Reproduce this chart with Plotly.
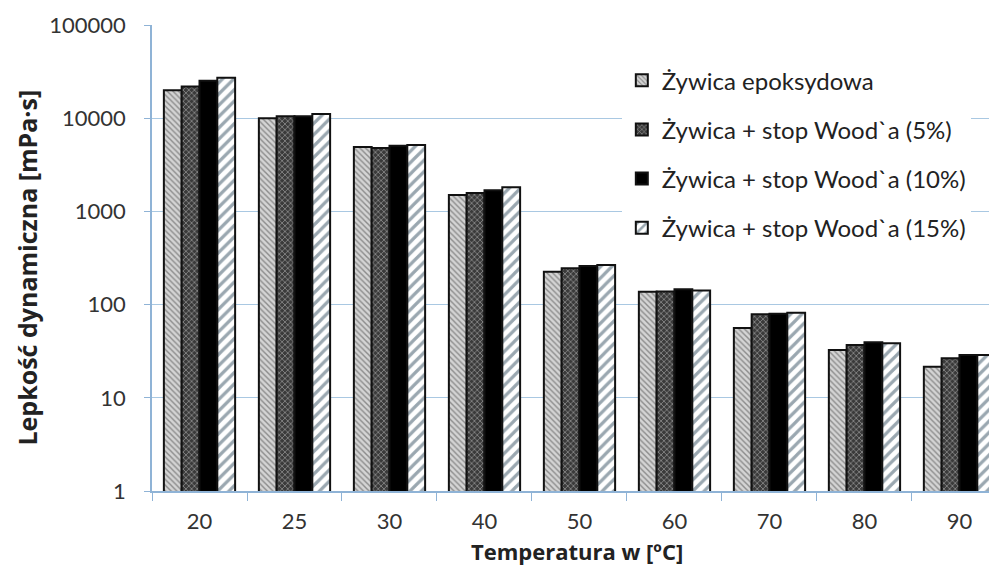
import plotly.graph_objects as go

categories = ["20", "25", "30", "40", "50", "60", "70", "80", "90"]
series_names = [
    "Żywica epoksydowa",
    "Żywica + stop Wood`a (5%)",
    "Żywica + stop Wood`a (10%)",
    "Żywica + stop Wood`a (15%)",
]
epoxy = [20000, 10000, 4900, 1500, 225, 137, 56, 32.6, 21.6]
wood5 = [21900, 10500, 4800, 1575, 245, 138, 79, 36.9, 26.5]
wood10 = [25200, 10500, 5050, 1690, 259, 146, 80, 39.4, 28.8]
wood15 = [27200, 11100, 5150, 1820, 266, 142, 82, 38.4, 28.8]
y_ticks = [1, 10, 100, 1000, 10000, 100000]
y_tick_labels = ["1", "10", "100", "1000", "10000", "100000"]

styles = [
    dict(shape="\\", bgcolor="#d4d4d4", fgcolor="#8c8c8c", size=4, solidity=0.35),
    dict(shape="x", bgcolor="#3a3a3a", fgcolor="#a0a0a0", size=4, solidity=0.3),
    dict(shape="", bgcolor="#000000", fgcolor="#000000"),
    dict(shape="/", bgcolor="#ffffff", fgcolor="#9aa7b0", size=8, solidity=0.4),
]
colors = ["#d4d4d4", "#3a3a3a", "#000000", "#ffffff"]

fig = go.Figure()
for i, (name, vals) in enumerate(zip(series_names, [epoxy, wood5, wood10, wood15])):
    st = styles[i]
    pattern = dict(shape=st["shape"], bgcolor=st["bgcolor"], fgcolor=st["fgcolor"])
    if st["shape"]:
        pattern.update(size=st["size"], solidity=st["solidity"], fillmode="replace")
    fig.add_trace(go.Bar(
        x=categories, y=vals, name=name,
        marker=dict(color=colors[i], pattern=pattern,
                    line=dict(color="#111111", width=2)),
        legendgroup=f"g{i}",
    ))

fig.update_layout(
    width=989, height=560,
    margin=dict(l=144, r=0, t=17, b=77, autoexpand=False),
    paper_bgcolor="white", plot_bgcolor="white",
    barmode="group", bargap=0.25, bargroupgap=0,
    font=dict(family="Lato, Open Sans, sans-serif", color="#333333", size=20),
    legend=dict(
        x=0.556, y=0.929, xanchor="left", yanchor="top",
        bgcolor="white", borderwidth=0,
        font=dict(size=24, color="#222222"),
        traceorder="grouped", tracegroupgap=15,
        itemwidth=30,
    ),
    showlegend=True,
)
fig.update_xaxes(
    type="category", range=[-0.5, 8.395], automargin=False,
    showline=True, linecolor="#8fb3d6", linewidth=1.5,
    ticks="outside", tickson="boundaries", ticklen=8, tickcolor="#8fb3d6",
    showgrid=False, tickfont=dict(size=22, color="#333333"),
    ticklabelstandoff=10,
)
fig.update_yaxes(
    type="log", range=[0, 5], automargin=False,
    tickvals=y_ticks, ticktext=y_tick_labels,
    showline=True, linecolor="#8fb3d6", linewidth=1.5,
    ticks="outside", ticklen=6, tickcolor="#8fb3d6",
    showgrid=True, gridcolor="#a9c8e2", gridwidth=1.2,
    tickfont=dict(size=22, color="#333333"),
    ticklabelstandoff=14,
    zeroline=False,
)
fig.add_annotation(
    text="<b>Lepkość dynamiczna [mPa·s]</b>", textangle=-90,
    xref="paper", yref="paper", x=-0.1695, y=0.479, xanchor="left", yanchor="middle",
    showarrow=False, borderpad=0,
    font=dict(family="Open Sans, Lato, sans-serif", size=25, color="#222222"),
)
fig.add_annotation(
    text="<b>Temperatura w [ºC]</b>",
    xref="paper", yref="paper", x=0.503, y=-0.164, xanchor="center", yanchor="bottom",
    showarrow=False, borderpad=0,
    font=dict(family="Open Sans, Lato, sans-serif", size=22, color="#222222"),
)
fig.write_html("out.html")
